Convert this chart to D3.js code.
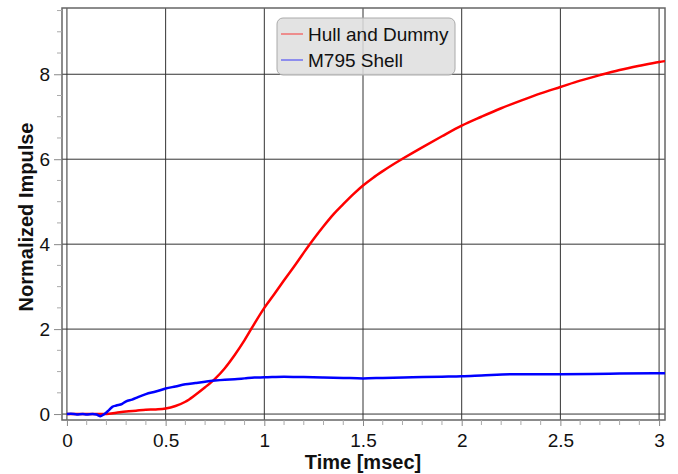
<!DOCTYPE html>
<html>
<head>
<meta charset="utf-8">
<script src="https://cdn.jsdelivr.net/npm/d3@7"></script>
<style>
  html, body { margin: 0; padding: 0; background: #fff; }
  svg { display: block; font-family: "Liberation Sans", Arial, Helvetica, sans-serif; }
</style>
</head>
<body>
<svg id="chart" width="678" height="474"></svg>
<script>
// Time axis [msec]
const hullTime = [0, 0.2, 0.25, 0.3, 0.35, 0.4, 0.45, 0.5, 0.55, 0.6, 0.65, 0.7, 0.75, 0.8, 0.85, 0.9, 0.95, 1.0, 1.05, 1.1, 1.15, 1.2, 1.25, 1.3, 1.35, 1.4, 1.45, 1.5, 1.55, 1.6, 1.65, 1.7, 1.8, 1.9, 2.0, 2.1, 2.2, 2.3, 2.4, 2.5, 2.6, 2.7, 2.8, 2.9, 3.0, 3.03];
// Hull and Dummy normalized impulse
const hullImpulse = [0, 0, 0.03, 0.06, 0.08, 0.1, 0.11, 0.13, 0.19, 0.29, 0.45, 0.63, 0.83, 1.08, 1.39, 1.74, 2.13, 2.5, 2.82, 3.15, 3.47, 3.8, 4.12, 4.42, 4.7, 4.94, 5.17, 5.38, 5.56, 5.72, 5.87, 6.01, 6.28, 6.54, 6.79, 7.0, 7.2, 7.38, 7.55, 7.7, 7.85, 7.98, 8.1, 8.2, 8.29, 8.31];

const shellTime = [0, 0.02, 0.05, 0.08, 0.1, 0.13, 0.15, 0.17, 0.19, 0.21, 0.23, 0.25, 0.28, 0.3, 0.33, 0.36, 0.4, 0.45, 0.5, 0.55, 0.6, 0.65, 0.7, 0.75, 0.8, 0.85, 0.9, 0.95, 1.0, 1.1, 1.2, 1.3, 1.4, 1.5, 1.6, 1.75, 1.9, 2.0, 2.1, 2.25, 2.5, 2.75, 3.0, 3.03];
// M795 Shell normalized impulse
const shellImpulse = [0, 0.01, -0.01, 0.0, -0.01, 0.0, -0.01, -0.05, 0.0, 0.08, 0.17, 0.2, 0.24, 0.3, 0.34, 0.4, 0.47, 0.53, 0.6, 0.65, 0.7, 0.73, 0.76, 0.79, 0.81, 0.82, 0.84, 0.86, 0.865, 0.88, 0.87, 0.86, 0.85, 0.84, 0.85, 0.865, 0.88, 0.89, 0.91, 0.94, 0.94, 0.95, 0.96, 0.96];

const seriesNames = ["Hull and Dummy", "M795 Shell"];
const seriesColors = ["#ff0000", "#0000ff"];

const xTicks = [0, 0.5, 1, 1.5, 2, 2.5, 3];
const xTickLabels = ["0", "0.5", "1", "1.5", "2", "2.5", "3"];
const yTicks = [0, 2, 4, 6, 8];
const yTickLabels = ["0", "2", "4", "6", "8"];

const svg = d3.select("#chart");
const frame = { left: 62, right: 665, top: 8, bottom: 420 };

const x = d3.scaleLinear().domain([-0.025, 3.03]).range([frame.left, frame.right]);
const y = d3.scaleLinear().domain([-0.14, 9.56]).range([frame.bottom, frame.top]);

svg.append("defs").append("clipPath").attr("id", "plotClip")
  .append("rect")
  .attr("x", frame.left).attr("y", frame.top)
  .attr("width", frame.right - frame.left).attr("height", frame.bottom - frame.top);

// grid
const grid = svg.append("g");
grid.selectAll("line.vx").data(xTicks).join("line")
  .attr("x1", d => x(d)).attr("x2", d => x(d))
  .attr("y1", frame.top).attr("y2", frame.bottom)
  .attr("stroke", "#333").attr("stroke-width", 1);
grid.selectAll("line.hy").data(yTicks).join("line")
  .attr("x1", frame.left).attr("x2", frame.right)
  .attr("y1", d => y(d)).attr("y2", d => y(d))
  .attr("stroke", "#333").attr("stroke-width", 1);

// frame
svg.append("rect")
  .attr("x", frame.left).attr("y", frame.top)
  .attr("width", frame.right - frame.left).attr("height", frame.bottom - frame.top)
  .attr("fill", "none").attr("stroke", "#666").attr("stroke-width", 1.5);

// axes
const xAxis = d3.axisBottom(x)
  .tickValues(xTicks)
  .tickFormat((d, i) => xTickLabels[i])
  .tickSize(6).tickPadding(8);
const gx = svg.append("g").attr("transform", `translate(0,${frame.bottom})`).call(xAxis);
gx.select(".domain").remove();
gx.selectAll(".tick line").attr("stroke", "#888");
gx.selectAll("text").attr("font-size", 19).attr("fill", "#111")
  .attr("font-family", "'Liberation Sans', Arial, sans-serif");

const xMinor = d3.range(0, 31).map(i => i / 10).filter(v => !xTicks.includes(v));
svg.append("g").selectAll("line").data(xMinor).join("line")
  .attr("x1", d => x(d)).attr("x2", d => x(d))
  .attr("y1", frame.bottom).attr("y2", frame.bottom + 5)
  .attr("stroke", "#aaa");

const yAxis = d3.axisLeft(y)
  .tickValues(yTicks)
  .tickFormat((d, i) => yTickLabels[i])
  .tickSize(8).tickPadding(4);
const gy = svg.append("g").attr("transform", `translate(${frame.left},0)`).call(yAxis);
gy.select(".domain").remove();
gy.selectAll(".tick line").attr("stroke", "#888");
gy.selectAll("text").attr("font-size", 19).attr("fill", "#111")
  .attr("font-family", "'Liberation Sans', Arial, sans-serif");

const yMinor = d3.range(0, 20).map(i => i / 2).filter(v => !yTicks.includes(v) && v <= 9.5);
svg.append("g").selectAll("line").data(yMinor).join("line")
  .attr("x1", frame.left - 5).attr("x2", frame.left)
  .attr("y1", d => y(d)).attr("y2", d => y(d))
  .attr("stroke", "#aaa");

// axis titles
svg.append("text")
  .attr("x", 363).attr("y", 469)
  .attr("text-anchor", "middle")
  .attr("font-size", 20).attr("font-weight", "bold").attr("fill", "#111")
  .text("Time [msec]");
svg.append("text")
  .attr("transform", "translate(33,217) rotate(-90)")
  .attr("text-anchor", "middle")
  .attr("font-size", 20).attr("font-weight", "bold").attr("fill", "#111")
  .text("Normalized Impulse");

// curves
const line = d3.line().x(d => x(d[0])).y(d => y(d[1])).curve(d3.curveMonotoneX);
const series = [
  d3.zip(hullTime, hullImpulse),
  d3.zip(shellTime, shellImpulse)
];
const plot = svg.append("g").attr("clip-path", "url(#plotClip)");
plot.selectAll("path").data(series).join("path")
  .attr("d", line)
  .attr("fill", "none")
  .attr("stroke", (d, i) => seriesColors[i])
  .attr("stroke-width", 2.5)
  .attr("stroke-linejoin", "round");

// legend
const legend = svg.append("g").attr("transform", "translate(277,18)");
legend.append("rect")
  .attr("width", 178).attr("height", 57).attr("rx", 6)
  .attr("fill", "#dedede").attr("fill-opacity", 0.85)
  .attr("stroke", "#aaa").attr("stroke-width", 1);
const items = legend.selectAll("g.item").data(seriesNames).join("g")
  .attr("transform", (d, i) => `translate(0,${16 + i * 26})`);
items.append("line")
  .attr("x1", 4).attr("x2", 26).attr("y1", 0).attr("y2", 0)
  .attr("stroke", (d, i) => seriesColors[i])
  .attr("stroke-opacity", 0.5).attr("stroke-width", 1.5);
items.append("text")
  .attr("x", 31).attr("y", 6.5)
  .attr("font-size", 19).attr("fill", "#111")
  .text(d => d);
</script>
</body>
</html>
